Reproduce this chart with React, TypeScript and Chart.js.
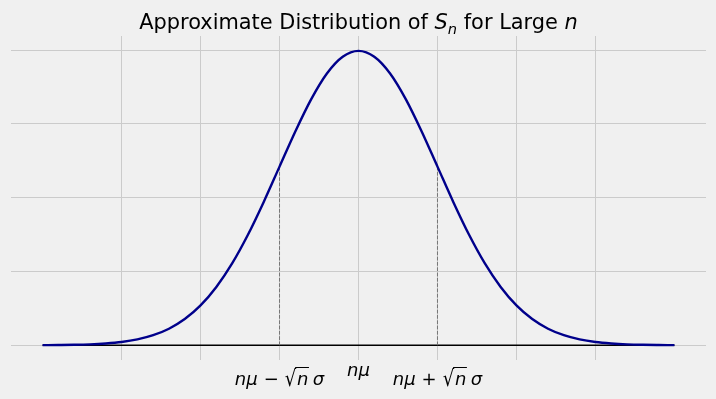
import React, { useEffect, useRef } from "react";
import { Chart, registerables } from "chart.js";

Chart.register(...registerables);

// ---- data ----
const xValues = [
  -4, -3.8, -3.6, -3.4, -3.2, -3, -2.8, -2.6, -2.4, -2.2, -2, -1.8, -1.6, -1.4,
  -1.2, -1, -0.8, -0.6, -0.4, -0.2, 0, 0.2, 0.4, 0.6, 0.8, 1, 1.2, 1.4, 1.6,
  1.8, 2, 2.2, 2.4, 2.6, 2.8, 3, 3.2, 3.4, 3.6, 3.8, 4,
];
const density = [
  0.0001, 0.0003, 0.0006, 0.0012, 0.0024, 0.0044, 0.0079, 0.0136, 0.0224,
  0.0355, 0.054, 0.079, 0.1109, 0.1497, 0.1942, 0.242, 0.2897, 0.3332, 0.3683,
  0.391, 0.3989, 0.391, 0.3683, 0.3332, 0.2897, 0.242, 0.1942, 0.1497, 0.1109,
  0.079, 0.054, 0.0355, 0.0224, 0.0136, 0.0079, 0.0044, 0.0024, 0.0012, 0.0006,
  0.0003, 0.0001,
];
const sigmaX = [-1, 1];
const sigmaHeight = [0.242, 0.242];
const baselineX = [-4, 4];
const xTickValues = [-3, -2, -1, 0, 1, 2, 3];
const xTickLabels = ["", "", "nμ − √nσ", "nμ", "nμ + √nσ", "", ""];
const yTickValues = [0, 0.1, 0.2, 0.3, 0.4];
const titleText = "Approximate Distribution of Sₙ for Large n";

const X_MIN = -4.4;
const X_MAX = 4.4;
const Y_MIN = -0.02;
const Y_MAX = 0.419;

const FONT = "'DejaVu Sans', sans-serif";

type Piece = { t: string; italic: boolean; overline?: boolean; gap?: number };

function parseMath(label: string): Piece[] {
  const out: Piece[] = [];
  const chars = Array.from(label);
  for (let i = 0; i < chars.length; i++) {
    const c = chars[i];
    if (c === " ") {
      out.push({ t: "", italic: false, gap: 0.33 });
    } else if (c === "√") {
      out.push({ t: "√", italic: false });
      out.push({ t: "", italic: false, gap: 0.05 });
      const nx = chars[i + 1];
      if (nx) {
        out.push({ t: nx, italic: true, overline: true });
        i++;
      }
      out.push({ t: "", italic: false, gap: 0.24 });
    } else if (/[A-Za-zμσ]/.test(c)) {
      out.push({ t: c, italic: true });
    } else {
      out.push({ t: c, italic: false });
    }
  }
  return out;
}

const RAD_SCALE = 1.24;

function drawMath(ctx: CanvasRenderingContext2D, label: string, cx: number, topY: number, size: number) {
  const pieces = parseMath(label);
  const fontFor = (p: Piece) => `${p.italic ? "italic " : ""}${size}px ${FONT}`;
  let width = 0;
  let ascent = 0;
  const widths: number[] = [];
  pieces.forEach((p) => {
    if (p.gap) {
      widths.push(p.gap * size);
      width += p.gap * size;
      return;
    }
    ctx.font = fontFor(p);
    const m = ctx.measureText(p.t);
    widths.push(m.width);
    width += m.width;
    const a = p.t === "√" ? m.actualBoundingBoxAscent * RAD_SCALE : m.actualBoundingBoxAscent;
    ascent = Math.max(ascent, a);
  });
  const baseline = topY + ascent;
  let x = cx - width / 2;
  ctx.fillStyle = "#000";
  ctx.textBaseline = "alphabetic";
  ctx.textAlign = "left";
  let radTop = baseline - size * 0.95;
  let radEnd = x;
  pieces.forEach((p, i) => {
    if (!p.gap) {
      ctx.font = fontFor(p);
      if (p.t === "√") {
        const m = ctx.measureText("√");
        ctx.save();
        ctx.translate(x, baseline + 1);
        ctx.scale(1, RAD_SCALE);
        ctx.fillText(p.t, 0, 0);
        ctx.restore();
        radTop = baseline + 1 - m.actualBoundingBoxAscent * RAD_SCALE;
        radEnd = x + m.width - 1;
      } else {
        ctx.fillText(p.t, x, baseline);
      }
      if (p.overline) {
        ctx.save();
        ctx.strokeStyle = "#000";
        ctx.lineWidth = 1;
        ctx.beginPath();
        ctx.moveTo(radEnd, radTop + 0.5);
        ctx.lineTo(x + widths[i] + 0.5, radTop + 0.5);
        ctx.stroke();
        ctx.restore();
      }
    }
    x += widths[i];
  });
}

function drawTitle(ctx: CanvasRenderingContext2D, text: string, cx: number, baseline: number, size: number) {
  const parts: { t: string; italic: boolean; sub?: boolean }[] = [];
  const chars = Array.from(text);
  let buf = "";
  const flush = () => {
    if (buf) parts.push({ t: buf, italic: false });
    buf = "";
  };
  for (let i = 0; i < chars.length; i++) {
    const c = chars[i];
    if (c === "S" && chars[i + 1] === "ₙ") {
      flush();
      parts.push({ t: "S", italic: true });
      parts.push({ t: "n", italic: true, sub: true });
      i++;
    } else if (c === "n" && i === chars.length - 1) {
      flush();
      parts.push({ t: "n", italic: true });
    } else {
      buf += c;
    }
  }
  flush();
  const fontFor = (p: { italic: boolean; sub?: boolean }) =>
    `${p.italic ? "italic " : ""}${p.sub ? size * 0.7 : size}px ${FONT}`;
  let width = 0;
  const widths = parts.map((p) => {
    ctx.font = fontFor(p);
    const w = ctx.measureText(p.t).width;
    width += w;
    return w;
  });
  let x = cx - width / 2;
  ctx.fillStyle = "#000";
  ctx.textAlign = "left";
  ctx.textBaseline = "alphabetic";
  parts.forEach((p, i) => {
    ctx.font = fontFor(p);
    ctx.fillText(p.t, x, p.sub ? baseline + size * 0.22 : baseline);
    x += widths[i];
  });
}

const decorPlugin = {
  id: "decor",
  beforeDraw(chart: any) {
    const ctx = chart.ctx as CanvasRenderingContext2D;
    ctx.save();
    ctx.fillStyle = "#f0f0f0";
    ctx.fillRect(0, 0, chart.width, chart.height);
    ctx.restore();
  },
  afterDraw(chart: any) {
    const ctx = chart.ctx as CanvasRenderingContext2D;
    const xs = chart.scales.x;
    const area = chart.chartArea;
    ctx.save();
    drawTitle(ctx, titleText, (area.left + area.right) / 2, 29, 20.9);
    xTickValues.forEach((v, i) => {
      const lab = xTickLabels[i];
      if (!lab) return;
      drawMath(ctx, lab, xs.getPixelForValue(v), 366, 18);
    });
    ctx.restore();
  },
};

export default function App() {
  const ref = useRef<HTMLCanvasElement | null>(null);
  useEffect(() => {
    document.body.style.margin = "0";
    document.body.style.background = "#f0f0f0";
    const canvas = ref.current;
    if (!canvas) return;
    const curve = xValues.map((x, i) => ({ x, y: density[i] }));
    const chart = new Chart(canvas, {
      type: "scatter",
      data: {
        datasets: [
          {
            data: curve,
            showLine: true,
            borderColor: "#00008b",
            borderWidth: 2.4,
            pointRadius: 0,
            cubicInterpolationMode: "monotone",
          } as any,
          ...sigmaX.map((sx, i) => ({
            data: [
              { x: sx, y: 0 },
              { x: sx, y: sigmaHeight[i] },
            ],
            showLine: true,
            borderColor: "#767676",
            borderWidth: 1,
            borderDash: [3.7, 1.6],
            pointRadius: 0,
          })),
          {
            data: baselineX.map((x) => ({ x, y: 0 })),
            showLine: true,
            borderColor: "#000000",
            borderWidth: 1.5,
            pointRadius: 0,
          },
        ],
      },
      options: {
        responsive: false,
        animation: false,
        events: [],
        layout: { padding: { left: 11, right: 10, top: 36, bottom: 39 } },
        plugins: {
          legend: { display: false },
          tooltip: { enabled: false },
          title: { display: false },
        },
        scales: {
          x: {
            type: "linear",
            min: X_MIN,
            max: X_MAX,
            afterBuildTicks: (scale: any) => {
              scale.ticks = xTickValues.map((v) => ({ value: v }));
            },
            ticks: { display: false },
            grid: { color: "#cbcbcb", lineWidth: 1, drawTicks: false },
            border: { display: false },
          },
          y: {
            type: "linear",
            min: Y_MIN,
            max: Y_MAX,
            afterBuildTicks: (scale: any) => {
              scale.ticks = yTickValues.map((v) => ({ value: v }));
            },
            ticks: { display: false },
            grid: { color: "#cbcbcb", lineWidth: 1, drawTicks: false },
            border: { display: false },
          },
        },
      },
      plugins: [decorPlugin],
    });
    return () => chart.destroy();
  }, []);
  return (
    <div style={{ width: 716, height: 399, background: "#f0f0f0" }}>
      <canvas ref={ref} width={716} height={399} style={{ display: "block" }} />
    </div>
  );
}
